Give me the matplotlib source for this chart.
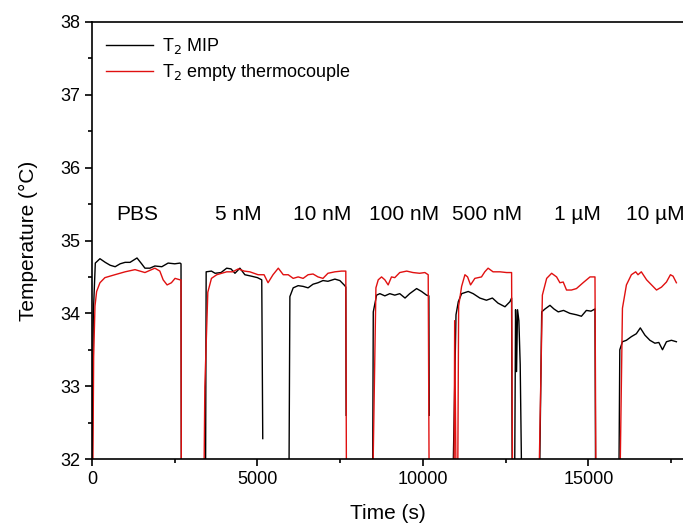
import numpy as np
import matplotlib
matplotlib.use("Agg")
import matplotlib.pyplot as plt
from matplotlib.ticker import MultipleLocator

plt.rcParams['font.family'] = ['Liberation Sans', 'DejaVu Sans']

# readings: (time s, temperature degC); 31.5 = trace below the axis
mip_pbs = [(0, 31.5), (40, 34.0), (100, 34.69), (240, 34.75), (400, 34.70), (550, 34.66),
           (700, 34.64), (850, 34.68), (1000, 34.70), (1150, 34.70), (1360, 34.76),
           (1500, 34.68), (1600, 34.62), (1750, 34.62), (1900, 34.65), (2110, 34.64),
           (2300, 34.69), (2500, 34.68), (2660, 34.69), (2690, 34.68), (2700, 31.5)]
mip_5nm = [(3430, 31.5), (3450, 34.57), (3610, 34.58), (3720, 34.55), (3900, 34.56),
           (4070, 34.62), (4200, 34.61), (4320, 34.55), (4470, 34.62), (4620, 34.53),
           (4820, 34.51), (5000, 34.49), (5130, 34.46), (5160, 32.28)]
mip_10nm = [(5950, 31.5), (5980, 34.23), (6080, 34.35), (6230, 34.38), (6380, 34.37),
            (6530, 34.35), (6680, 34.40), (6830, 34.42), (6980, 34.45), (7130, 34.44),
            (7340, 34.47), (7490, 34.45), (7640, 34.38), (7670, 34.36), (7680, 32.6)]
mip_100nm = [(8480, 31.5), (8500, 34.02), (8600, 34.25), (8700, 34.27), (8850, 34.24),
             (9000, 34.27), (9150, 34.25), (9300, 34.27), (9460, 34.21), (9600, 34.27),
             (9810, 34.34), (9960, 34.30), (10110, 34.25), (10180, 34.24), (10190, 32.6)]
mip_500nm = [(10900, 31.5), (11000, 33.98), (11070, 34.16), (11170, 34.27), (11370, 34.30),
             (11520, 34.27), (11720, 34.21), (11920, 34.18), (12100, 34.21), (12270, 34.14),
             (12480, 34.09), (12630, 34.16), (12680, 34.21), (12700, 31.5)]
mip_spike = [(12770, 31.5), (12800, 34.05), (12830, 33.2), (12860, 34.05), (12900, 33.9),
             (12940, 33.3), (12990, 31.5)]
mip_1um = [(13520, 31.5), (13590, 34.02), (13690, 34.06), (13840, 34.11), (13960, 34.06),
           (14090, 34.02), (14250, 34.04), (14440, 34.00), (14640, 33.98), (14790, 33.96),
           (14940, 34.04), (15080, 34.03), (15200, 34.06), (15220, 31.5)]
mip_10um = [(15920, 31.5), (15950, 33.50), (16030, 33.61), (16150, 33.63), (16300, 33.68),
            (16450, 33.72), (16570, 33.80), (16710, 33.70), (16860, 33.63), (17010, 33.59),
            (17130, 33.60), (17240, 33.50), (17360, 33.61), (17510, 33.63), (17660, 33.61)]

emp_pbs = [(20, 31.5), (50, 33.4), (90, 34.1), (140, 34.30), (240, 34.42), (390, 34.49),
           (690, 34.53), (1000, 34.57), (1300, 34.60), (1600, 34.56), (1900, 34.62),
           (2050, 34.58), (2150, 34.46), (2270, 34.39), (2400, 34.42), (2510, 34.48),
           (2660, 34.46), (2690, 34.46), (2700, 31.5)]
emp_5nm = [(3380, 31.5), (3410, 33.0), (3500, 34.29), (3610, 34.48), (3770, 34.53),
           (3920, 34.55), (4070, 34.57), (4250, 34.57), (4420, 34.61), (4600, 34.58),
           (4770, 34.57), (5020, 34.53), (5200, 34.53), (5320, 34.42), (5470, 34.53),
           (5630, 34.62), (5780, 34.53), (5930, 34.53), (6080, 34.48), (6230, 34.50),
           (6380, 34.48), (6530, 34.53), (6680, 34.54), (6830, 34.50), (6980, 34.48),
           (7130, 34.55), (7340, 34.57), (7540, 34.58), (7670, 34.58), (7690, 31.5)]
emp_100nm = [(8480, 31.5), (8580, 34.35), (8650, 34.46), (8750, 34.50), (8850, 34.46),
             (8950, 34.39), (9050, 34.50), (9150, 34.49), (9300, 34.56), (9510, 34.58),
             (9700, 34.56), (9900, 34.55), (10060, 34.56), (10160, 34.53), (10190, 31.5)]
emp_500nm = [(10940, 31.5), (10960, 33.9), (11000, 31.8), (11050, 31.5), (11080, 34.1),
             (11170, 34.37), (11270, 34.53), (11350, 34.50), (11440, 34.39), (11570, 34.48),
             (11770, 34.50), (11870, 34.57), (11970, 34.62), (12120, 34.57), (12330, 34.57),
             (12530, 34.56), (12680, 34.56), (12710, 31.5)]
emp_1um = [(13500, 31.5), (13610, 34.25), (13740, 34.48), (13890, 34.55), (14040, 34.50),
           (14140, 34.42), (14240, 34.43), (14340, 34.32), (14490, 34.32), (14640, 34.34),
           (14840, 34.42), (15050, 34.50), (15200, 34.50), (15230, 31.5)]
emp_10um = [(15950, 31.5), (16030, 34.07), (16150, 34.39), (16300, 34.53), (16430, 34.57),
            (16500, 34.53), (16600, 34.57), (16760, 34.46), (16910, 34.39), (17060, 34.32),
            (17210, 34.36), (17360, 34.43), (17480, 34.53), (17560, 34.51), (17660, 34.42)]

label_text = ["PBS", "5 nM", "10 nM", "100 nM", "500 nM", "1 µM", "10 µM"]
label_time = [1360, 4410, 6950, 9420, 11930, 14680, 17010]
label_temp = 35.36


def join(segments):
    t, v = [], []
    for seg in segments:
        t += [p[0] for p in seg] + [np.nan]
        v += [p[1] for p in seg] + [np.nan]
    return np.array(t), np.array(v)


mip_t, mip_v = join([mip_pbs, mip_5nm, mip_10nm, mip_100nm, mip_500nm, mip_spike, mip_1um, mip_10um])
emp_t, emp_v = join([emp_pbs, emp_5nm, emp_100nm, emp_500nm, emp_1um, emp_10um])

fig = plt.figure(figsize=(6.83, 5.25), dpi=100)
ax = fig.add_axes([92 / 683, 1 - 459 / 525, 1 - 92 / 683, (459 - 22) / 525])

ax.plot(mip_t, mip_v, color='black', lw=1.0, label=r'T$_2$ MIP')
ax.plot(emp_t, emp_v, color='#e01010', lw=1.0, label=r'T$_2$ empty thermocouple')

for txt, tx in zip(label_text, label_time):
    ax.text(tx, label_temp, txt, ha='center', va='center', fontsize=15)

ax.set_xlim(0, 17860)
ax.set_ylim(32, 38)
ax.xaxis.set_major_locator(MultipleLocator(5000))
ax.xaxis.set_minor_locator(MultipleLocator(2500))
ax.yaxis.set_major_locator(MultipleLocator(1))
ax.yaxis.set_minor_locator(MultipleLocator(0.5))
ax.tick_params(which='major', direction='out', length=5, width=1.2, labelsize=13)
ax.tick_params(which='minor', direction='out', length=3, width=1.2)
ax.spines['right'].set_visible(False)
for s in ['left', 'bottom', 'top']:
    ax.spines[s].set_linewidth(1.2)

ax.set_xlabel('Time (s)', fontsize=15, labelpad=12)
ax.set_ylabel('Temperature (°C)', fontsize=15, labelpad=16)

ax.legend(loc='upper left', frameon=False, fontsize=13, handlelength=2.6,
          handletextpad=0.5, borderaxespad=0.4, labelspacing=0.3)

fig.savefig('out.png', dpi=100)
